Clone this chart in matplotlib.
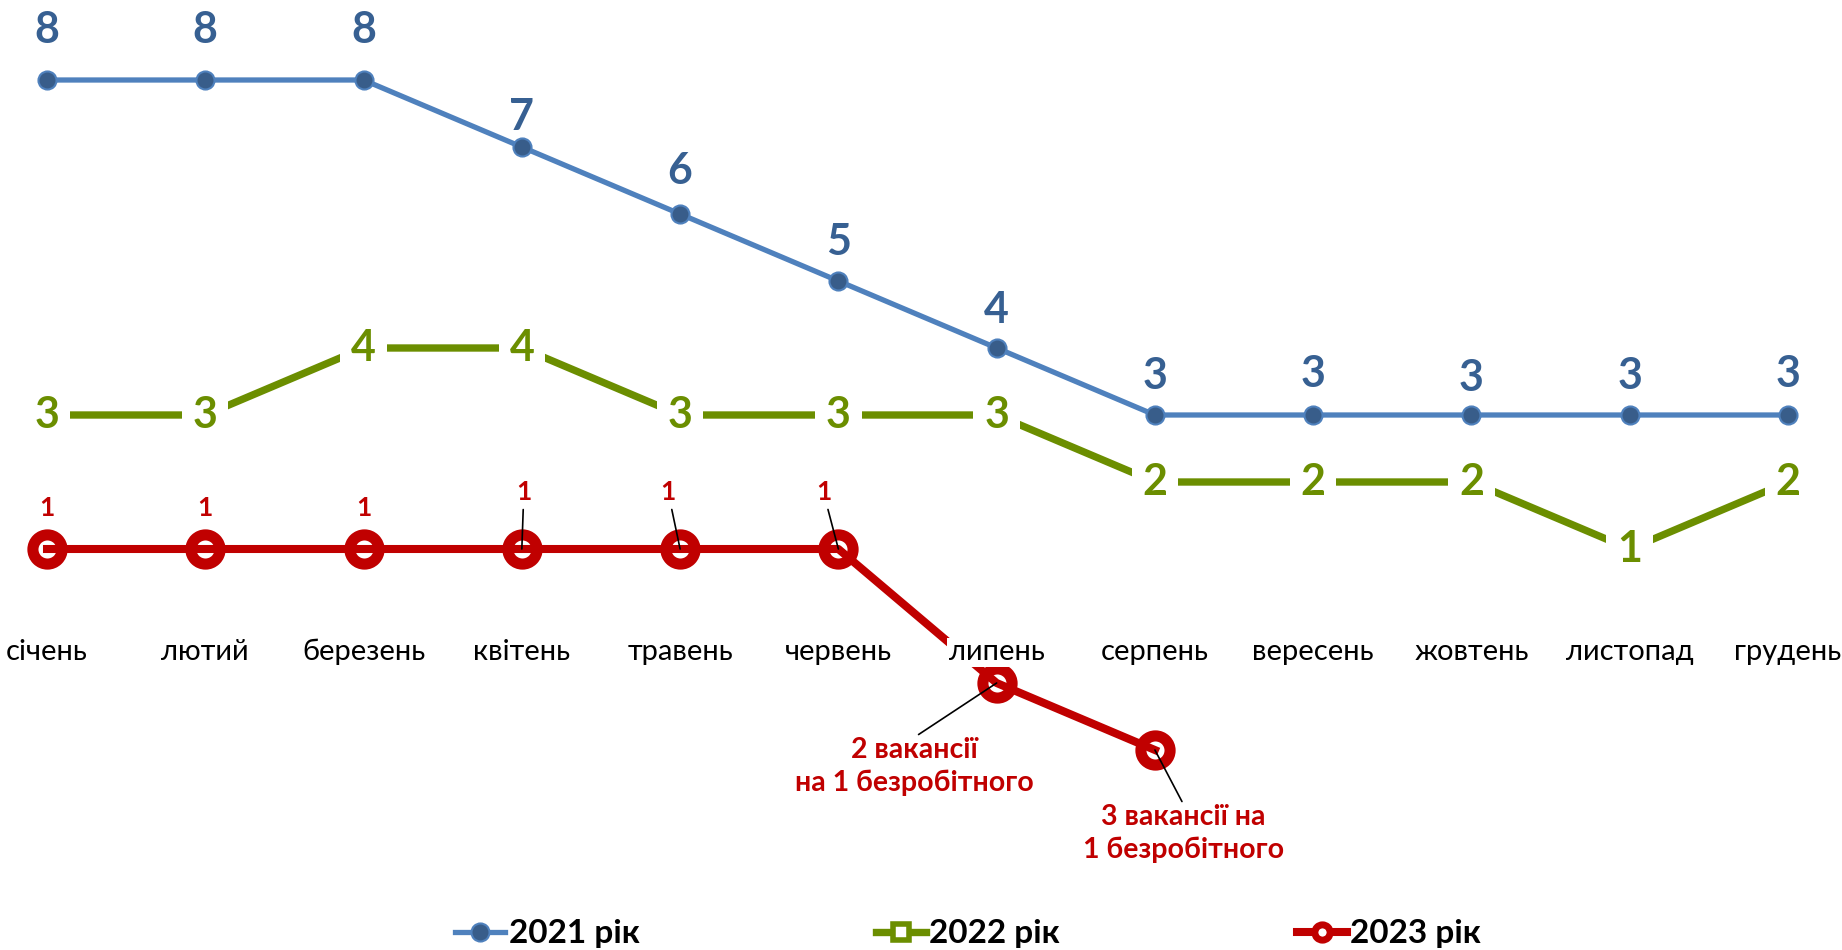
import matplotlib
matplotlib.use('Agg')
import matplotlib.pyplot as plt
from matplotlib.lines import Line2D

plt.rcParams['font.family'] = ['Lato', 'Noto Sans', 'DejaVu Sans']

# data
months = ['січень', 'лютий', 'березень', 'квітень', 'травень', 'червень',
          'липень', 'серпень', 'вересень', 'жовтень', 'листопад', 'грудень']
y2021 = [8, 8, 8, 7, 6, 5, 4, 3, 3, 3, 3, 3]
y2022 = [3, 3, 4, 4, 3, 3, 3, 2, 2, 2, 1, 2]
y2023 = [1, 1, 1, 1, 1, 1, -1, -2]
labels2023 = ['1', '1', '1', '1', '1', '1',
              '2 вакансії\nна 1 безробітного', '3 вакансії на\n1 безробітного']
series_names = ['2021 рік', '2022 рік', '2023 рік']

blue = '#4F81BD'
blue_dark = '#385D8A'
blue_text = '#376092'
green = '#6B8E00'
red = '#C00000'

fig = plt.figure(figsize=(18.42, 9.5), dpi=100)
ax = fig.add_axes([0, 0, 1, 1])
ax.set_xlim(-0.297, 11.341)
ax.set_ylim(-4.985, 9.194)
ax.axis('off')

x = list(range(len(months)))

# 2021
ax.plot(x, y2021, color=blue, lw=3.8, marker='o', ms=13, mfc=blue_dark,
        mec=blue, mew=1.5, zorder=3)
# label heights above the points (pixels), as they sit in the original
blue_dy = [50, 50, 50, 30, 43, 39, 38, 39, 41, 37, 39, 41]
for xi, v, dy in zip(x, y2021, blue_dy):
    ax.annotate(str(v), (xi, v), xytext=(0, dy), textcoords='offset pixels',
                ha='center', va='center', fontsize=31, fontweight='bold',
                color=blue_text, zorder=6)

# 2022
ax.plot(x, y2022, color=green, lw=5.3, marker='s', ms=12, mfc='white',
        mec=green, mew=3, zorder=3)
for xi, v in zip(x, y2022):
    ax.text(xi, v, str(v), ha='center', va='center', fontsize=31,
            fontweight='bold', color=green, zorder=6,
            bbox=dict(boxstyle='square,pad=0.25', fc='white', ec='none'))

# 2023 - markers first, line on top (line shows through the ring)
x23 = x[:len(y2023)]
ax.plot(x23, y2023, ls='none', marker='o', ms=21, mfc='white',
        mec=red, mew=8, zorder=4)
ax.plot(x23, y2023, color=red, lw=5.8, zorder=4.5)
offsets = [(0, 41), (0, 41), (0, 41), (2, 57), (-12, 57), (-15, 57)]
for i, (dx, dy) in enumerate(offsets):
    arrow = None
    if dy > 41:
        arrow = dict(arrowstyle='-', color='black', lw=1.2, shrinkA=2, shrinkB=0)
    ax.annotate(labels2023[i], (x23[i], y2023[i]), xytext=(dx, dy),
                textcoords='offset pixels', ha='center', va='center',
                fontsize=19, fontweight='bold', color=red, zorder=7,
                arrowprops=arrow)
ax.annotate(labels2023[6], (x23[6], y2023[6]), xytext=(5.48, -2.25),
            ha='center', va='center', fontsize=20.5, fontweight='bold', color=red,
            linespacing=1.3, zorder=7,
            arrowprops=dict(arrowstyle='-', color='black', lw=1.2,
                            shrinkA=0, shrinkB=0, relpos=(0.5, 1.0)))
ax.annotate(labels2023[7], (x23[7], y2023[7]), xytext=(7.18, -3.25),
            ha='center', va='center', fontsize=20.5, fontweight='bold', color=red,
            linespacing=1.3, zorder=7,
            arrowprops=dict(arrowstyle='-', color='black', lw=1.2,
                            shrinkA=0, shrinkB=0, relpos=(0.5, 1.0)))

# month labels (category axis at 0)
for xi, m in zip(x, months):
    ax.text(xi, -0.54, m, ha='center', va='center', fontsize=21, color='black',
            zorder=5, bbox=dict(boxstyle='square,pad=0.05', fc='white', ec='none'))

# legend
handles = [
    Line2D([], [], color=blue, lw=3.8, marker='o', ms=13, mfc=blue_dark, mec=blue, mew=1.5),
    Line2D([], [], color=green, lw=5.3, marker='s', ms=12, mfc='white', mec=green, mew=4),
    Line2D([], [], color=red, lw=5.8, marker='o', ms=11, mfc='white', mec=red, mew=5),
]
leg = fig.legend(handles, series_names, loc='center', bbox_to_anchor=(0.5256, 0.017),
                 ncol=3, frameon=False, handlelength=1.5, handletextpad=0.1,
                 columnspacing=7.1, prop=dict(size=24, weight='bold'))

fig.savefig('out.png', dpi=100)
